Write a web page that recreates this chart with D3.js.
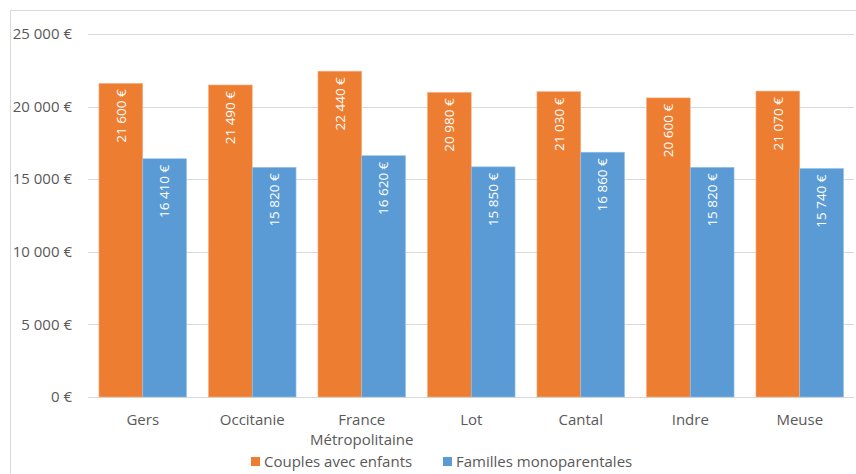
<!DOCTYPE html>
<html><head><meta charset="utf-8">
<script src="https://cdn.jsdelivr.net/npm/d3@7"></script>
<style>body{margin:0;background:#fff}svg{display:block}text{font-family:"Open Sans",sans-serif}</style>
</head><body>
<svg id="c" width="856" height="474"></svg>
<script>
const categories = ["Gers","Occitanie","France Métropolitaine","Lot","Cantal","Indre","Meuse"];
const seriesNames = ["Couples avec enfants","Familles monoparentales"];
const couples = [21600,21490,22440,20980,21030,20600,21070];
const familles = [16410,15820,16620,15850,16860,15820,15740];
const yTicks = [0,5000,10000,15000,20000,25000];
const colors = ["#ED7D31","#5B9BD5"];

const svg = d3.select("#c");
const W=856,H=474;
svg.append("rect").attr("x",10.5).attr("y",10.5).attr("width",W).attr("height",H).attr("fill","#fff").attr("stroke","#d9d9d9");

const x0 = d3.scaleBand().domain(categories).range([88,854.5]).paddingInner(0.2).paddingOuter(0.1);
const x1 = d3.scaleBand().domain(seriesNames).range([0,x0.bandwidth()]);
const y = d3.scaleLinear().domain([0,25000]).range([397,34]);
const fmt = v => d3.format(",")(v).replace(/,/g,"\u00A0")+"\u00A0€";

const g = svg.append("g");
g.selectAll("line.grid").data(yTicks).enter().append("line")
 .attr("x1",88).attr("x2",854).attr("y1",d=>Math.round(y(d))+0.5).attr("y2",d=>Math.round(y(d))+0.5)
 .attr("stroke","#d9d9d9").attr("stroke-width",1);
g.selectAll("text.yt").data(yTicks).enter().append("text")
 .attr("x",72).attr("y",d=>y(d)).attr("dy","0.35em").attr("text-anchor","end")
 .attr("font-size",15).attr("fill","#595959").text(d=>fmt(d));

const data = categories.map((c,i)=>({c, vals:[couples[i],familles[i]]}));
const grp = g.selectAll("g.cat").data(data).enter().append("g").attr("transform",d=>`translate(${x0(d.c)},0)`);
grp.each(function(d){
  const s=d3.select(this);
  d.vals.forEach((v,j)=>{
    const bx=x1(seriesNames[j]), bw=x1.bandwidth();
    s.append("rect").attr("x",bx).attr("y",y(v)).attr("width",bw).attr("height",y(0)-y(v))
     .attr("fill",colors[j]).attr("stroke",j==0?"#f6b48a":"#9cc3e8").attr("stroke-width",0.6);
    s.append("text").attr("transform",`translate(${bx+bw/2},${y(v)+6}) rotate(-90)`)
     .attr("text-anchor","end").attr("dy","0.35em").attr("font-size",13.5).attr("fill","#fff").text(fmt(v));
  });
});

data.forEach(d=>{
  const cx = x0(d.c)+x0.bandwidth()/2;
  const words = d.c==="France Métropolitaine" ? ["France","Métropolitaine"] : [d.c];
  words.forEach((w,k)=>{
    g.append("text").attr("x",cx).attr("y",420+k*20).attr("dy","0.35em").attr("text-anchor","middle")
     .attr("font-size",15).attr("fill","#595959").text(w);
  });
});

const leg = [{x:251},{x:443}];
seriesNames.forEach((n,j)=>{
  svg.append("rect").attr("x",leg[j].x).attr("y",457).attr("width",9).attr("height",9).attr("fill",colors[j]);
  svg.append("text").attr("x",leg[j].x+13).attr("y",462).attr("dy","0.35em").attr("font-size",15).attr("fill","#595959").text(n);
});
</script>
</body></html>
